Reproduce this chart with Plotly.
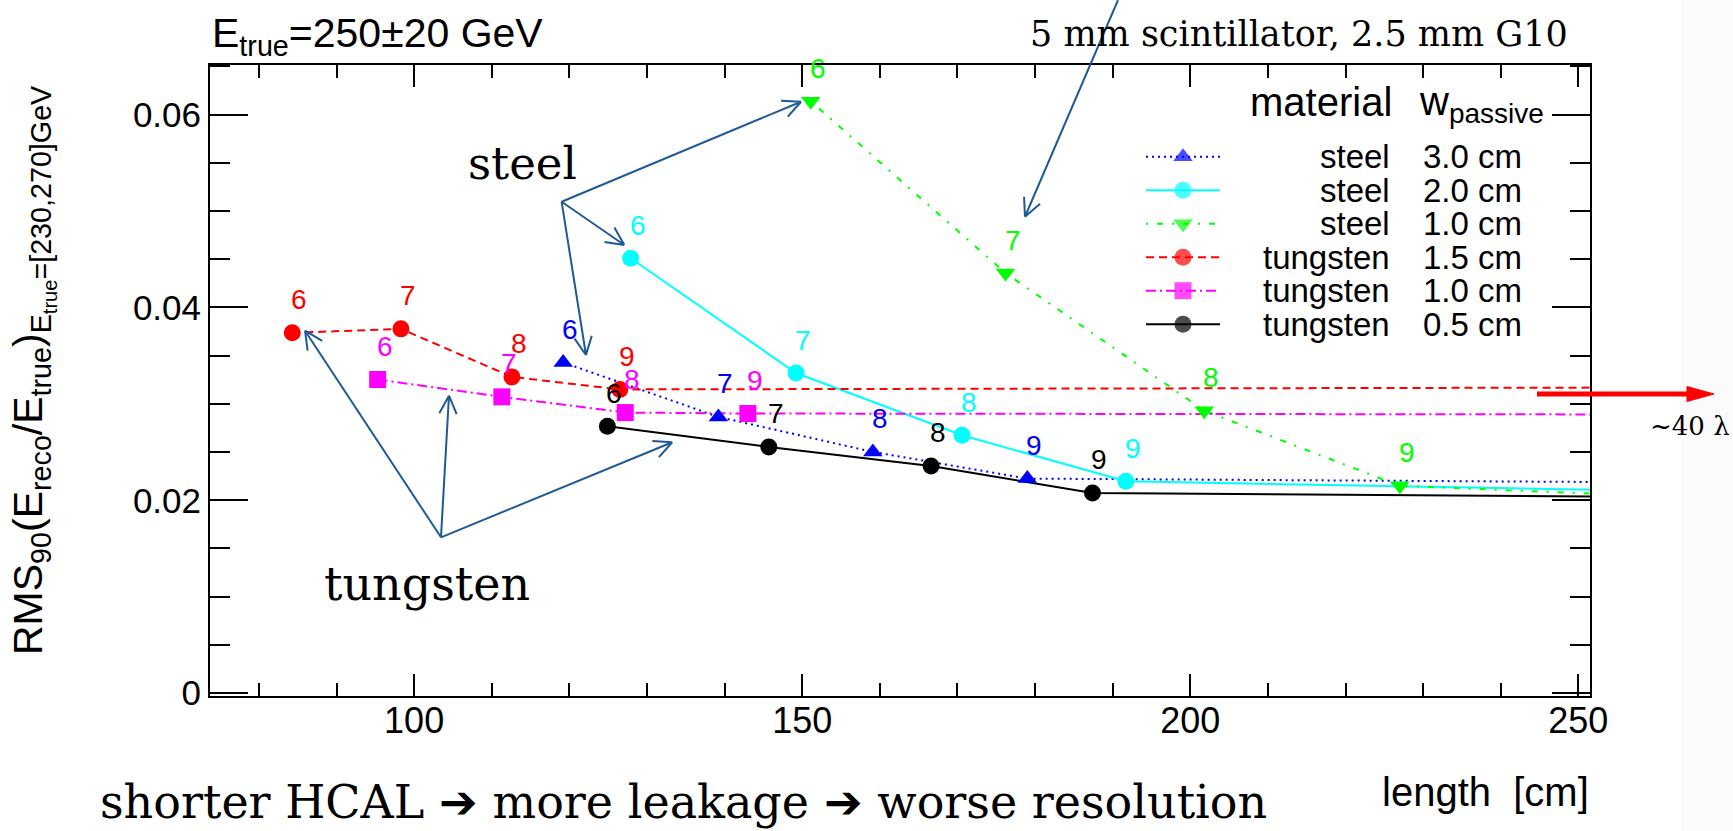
import math
import plotly.graph_objects as go

# ---------------- data ----------------
layers = [6, 7, 8, 9]

steel30_x = [119.2, 139.2, 159.1, 179.0]
steel30_y = [0.0343, 0.02865, 0.02502, 0.02225]
steel20_x = [127.9, 149.2, 170.6, 191.7]
steel20_y = [0.0451, 0.0332, 0.02675, 0.02197]
steel10_x = [151.1, 176.2, 201.8, 227.0]
steel10_y = [0.0614, 0.04357, 0.0293, 0.0215]
tung15_x = [84.3, 98.3, 112.6, 126.5]
tung15_y = [0.03737, 0.03778, 0.0328, 0.0315]
tung10_x = [95.3, 111.3, 127.2, 143.0]
tung10_y = [0.03253, 0.03073, 0.0291, 0.0290]
tung05_x = [124.9, 145.7, 166.6, 187.4]
tung05_y = [0.02768, 0.02553, 0.02356, 0.02076]

# continuation of each curve beyond the visible axis (towards ~40 lambda)
far_x = [260, 260, 260, 260, 260, 260]
far_y = [0.02186, 0.02098, 0.02042, 0.0317, 0.0289, 0.02035]

materials = ["steel", "steel", "steel", "tungsten", "tungsten", "tungsten"]
widths = ["3.0 cm", "2.0 cm", "1.0 cm", "1.5 cm", "1.0 cm", "0.5 cm"]

x_ticks = [100, 150, 200, 250]
y_ticks = [0, 0.02, 0.04, 0.06]
y_ticktext = ["0", "0.02", "0.04", "0.06"]

# ---------------- styling ----------------
W, H = 1733, 831
L, R, T, B = 210, 1590, 65, 696
XR = [73.7, 251.5]
YR = [-0.0003, 0.06515]

series = [
    dict(x=steel30_x, y=steel30_y, color="#0000FF", dash="2px,4px", symbol="triangle-up", size=17),
    dict(x=steel20_x, y=steel20_y, color="#00FFFF", dash="solid", symbol="circle", size=17),
    dict(x=steel10_x, y=steel10_y, color="#00FF00", dash="2px,9px,6px,9px", symbol="triangle-down", size=17),
    dict(x=tung15_x, y=tung15_y, color="#FF0000", dash="8px,5px", symbol="circle", size=17),
    dict(x=tung10_x, y=tung10_y, color="#FF00FF", dash="10px,4px,2px,4px", symbol="square", size=17),
    dict(x=tung05_x, y=tung05_y, color="#000000", dash="solid", symbol="circle", size=17),
]

SANS = "Liberation Sans, Arial, sans-serif"
SERIF = "DejaVu Serif, serif"
ARROW = "#1F5A96"


def px_x(X):
    return (X - L) / (R - L)


def px_y(Y):
    return (B - Y) / (B - T)


def d2px(x, y):
    X = L + (x - XR[0]) / (XR[1] - XR[0]) * (R - L)
    Y = T + (YR[1] - y) / (YR[1] - YR[0]) * (B - T)
    return X, Y


fig = go.Figure()

for i, s in enumerate(series):
    fig.add_trace(go.Scatter(
        x=s["x"] + [far_x[i]], y=s["y"] + [far_y[i]], mode="lines",
        line=dict(color=s["color"], width=2, dash=s["dash"]),
        showlegend=False, hoverinfo="skip"))
for i, s in enumerate(series):
    fig.add_trace(go.Scatter(
        x=s["x"], y=s["y"], mode="markers",
        marker=dict(color=s["color"], symbol=s["symbol"], size=s["size"], line=dict(width=0)),
        showlegend=False))

annotations = []
# point labels (number of interaction lengths)
for s in series:
    for xv, yv, n in zip(s["x"], s["y"], layers):
        annotations.append(dict(x=xv, y=yv, xref="x", yref="y", text=str(n), showarrow=False,
                                xshift=7, yshift=33, xanchor="center", yanchor="middle",
                                font=dict(family=SANS, size=28, color=s["color"])))

# legend samples drawn on an overlay axis in [0,1] units of the plot area
row_y = [156.7 + 33.5 * i for i in range(6)]
for i, s in enumerate(series):
    yy = px_y(row_y[i])
    fig.add_trace(go.Scatter(
        x=[px_x(1146), px_x(1183), px_x(1220)], y=[yy, yy, yy], xaxis="x2", yaxis="y2",
        mode="lines+markers",
        line=dict(color=s["color"], width=2, dash=s["dash"]),
        marker=dict(color=s["color"], symbol=s["symbol"], size=[0, s["size"], 0], line=dict(width=0)),
        showlegend=False, hoverinfo="skip"))
    annotations.append(dict(x=px_x(1392), y=yy, xref="paper", yref="paper", text=materials[i],
                            showarrow=False, xanchor="right", yanchor="middle",
                            font=dict(family=SANS, size=33, color="black")))
    annotations.append(dict(x=px_x(1421), y=yy, xref="paper", yref="paper", text=widths[i],
                            showarrow=False, xanchor="left", yanchor="middle",
                            font=dict(family=SANS, size=33, color="black")))

annotations.append(dict(x=px_x(1394), y=px_y(102), xref="paper", yref="paper", text="material",
                        showarrow=False, xanchor="right", yanchor="middle",
                        font=dict(family=SANS, size=40, color="black")))
annotations.append(dict(x=px_x(1417), y=px_y(104), xref="paper", yref="paper", text="w<sub>passive</sub>",
                        showarrow=False, xanchor="left", yanchor="middle",
                        font=dict(family=SANS, size=40, color="black")))

# titles
annotations.append(dict(x=px_x(210), y=px_y(36), xref="paper", yref="paper",
                        text="E<sub>true</sub>=250±20 GeV", showarrow=False,
                        xanchor="left", yanchor="middle", font=dict(family=SANS, size=41, color="black")))
annotations.append(dict(x=px_x(33), y=px_y(370), xref="paper", yref="paper",
                        text="RMS<sub>90</sub>(E<sub>reco</sub>/E<sub>true</sub>)<sub>E<sub>true</sub>=[230,270]GeV</sub>",
                        textangle=-90, showarrow=False, xanchor="center", yanchor="middle",
                        font=dict(family=SANS, size=41, color="black")))
annotations.append(dict(x=px_x(1591), y=px_y(792), xref="paper", yref="paper", text="length  [cm]",
                        showarrow=False, xanchor="right", yanchor="middle",
                        font=dict(family=SANS, size=40, color="black")))

# slide annotations
annotations.append(dict(x=px_x(466), y=px_y(163), xref="paper", yref="paper", text="steel",
                        showarrow=False, xanchor="left", yanchor="middle",
                        font=dict(family=SERIF, size=45, color="black")))
annotations.append(dict(x=px_x(322), y=px_y(584), xref="paper", yref="paper", text="tungsten",
                        showarrow=False, xanchor="left", yanchor="middle",
                        font=dict(family=SERIF, size=46, color="black")))
annotations.append(dict(x=px_x(1028), y=px_y(34), xref="paper", yref="paper",
                        text="5 mm scintillator, 2.5 mm G10",
                        showarrow=False, xanchor="left", yanchor="middle",
                        font=dict(family=SERIF, size=35, color="black")))
annotations.append(dict(x=px_x(98), y=px_y(802), xref="paper", yref="paper",
                        text="shorter HCAL ➔ more leakage ➔ worse resolution",
                        showarrow=False, xanchor="left", yanchor="middle",
                        font=dict(family=SERIF, size=46, color="black")))
annotations.append(dict(x=px_x(1690), y=px_y(426), xref="paper", yref="paper", text="~40 λ",
                        showarrow=False, xanchor="center", yanchor="middle",
                        font=dict(family=SERIF, size=26, color="black")))

# blue pointer arrows (data coordinates of tail and tip)
arrows = [
    ((119.0, 0.05097), (149.85, 0.06134)),
    ((119.0, 0.05097), (127.08, 0.04648)),
    ((119.0, 0.05097), (122.14, 0.03507)),
    ((103.46, 0.01616), (85.94, 0.03759)),
    ((103.46, 0.01616), (104.49, 0.03085)),
    ((103.46, 0.01616), (133.26, 0.02602)),
    ((190.69, 0.07189), (178.70, 0.04941)),
]
shapes = []
for (tx, ty), (hx, hy) in arrows:
    X0, Y0 = d2px(tx, ty)
    X1, Y1 = d2px(hx, hy)
    ang = math.atan2(Y0 - Y1, X0 - X1)
    path = f"M{px_x(X0)},{px_y(Y0)} L{px_x(X1)},{px_y(Y1)}"
    for da in (0.45, -0.45):
        bx = X1 + 20 * math.cos(ang + da)
        by = Y1 + 20 * math.sin(ang + da)
        path += f" M{px_x(X1)},{px_y(Y1)} L{px_x(bx)},{px_y(by)}"
    shapes.append(dict(type="path", xref="paper", yref="paper", path=path,
                       line=dict(color=ARROW, width=2)))

# red "continues to ~40 lambda" arrow
shapes.append(dict(type="line", xref="paper", yref="paper", x0=px_x(1537), y0=px_y(394),
                   x1=px_x(1690), y1=px_y(394), line=dict(color="#FF0000", width=5)))
shapes.append(dict(type="path", xref="paper", yref="paper",
                   path=f"M{px_x(1687)},{px_y(386.5)} L{px_x(1714)},{px_y(394)} L{px_x(1687)},{px_y(401.5)} Z",
                   fillcolor="#FF0000", line=dict(color="#FF0000", width=1)))
# faint slide background strip on the right
shapes.append(dict(type="rect", xref="paper", yref="paper", x0=px_x(1681), x1=px_x(1740),
                   y0=px_y(-5), y1=px_y(840), fillcolor="#FBFBFB", line=dict(width=0), layer="below"))

fig.update_layout(
    width=W, height=H,
    margin=dict(l=L, r=W - R, t=T, b=H - B),
    paper_bgcolor="white", plot_bgcolor="rgba(0,0,0,0)",
    showlegend=False,
    annotations=annotations, shapes=shapes,
    xaxis=dict(range=XR, tickvals=x_ticks, ticks="inside", ticklen=22, tickwidth=1.5,
               tickcolor="black", showline=True, linecolor="black", linewidth=2, mirror="ticks",
               showgrid=False, zeroline=False, ticklabelstandoff=-8,
               minor=dict(dtick=10, tick0=0, ticks="inside", ticklen=13, tickwidth=1.5, tickcolor="black", showgrid=False),
               tickfont=dict(family=SANS, size=36, color="black")),
    yaxis=dict(range=YR, tickvals=y_ticks, ticktext=y_ticktext, ticks="inside", ticklen=38, tickwidth=1.5,
               tickcolor="black", showline=True, linecolor="black", linewidth=2, mirror="ticks",
               showgrid=False, zeroline=False,
               minor=dict(dtick=0.005, tick0=0, ticks="inside", ticklen=20, tickwidth=1.5, tickcolor="black", showgrid=False),
               tickfont=dict(family=SANS, size=35, color="black")),
    xaxis2=dict(range=[0, 1], overlaying="x", visible=False, fixedrange=True),
    yaxis2=dict(range=[0, 1], overlaying="y", visible=False, fixedrange=True),
)

fig.write_html("out.html")
